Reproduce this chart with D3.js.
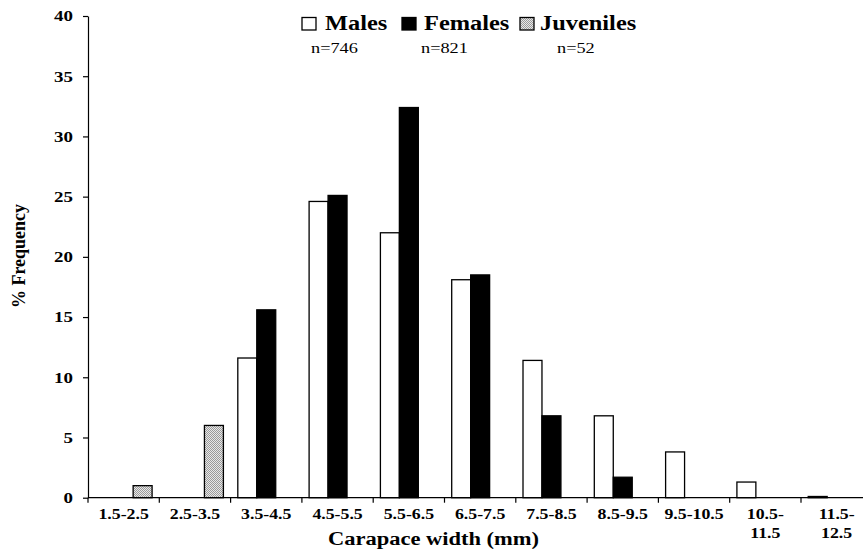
<!DOCTYPE html>
<html><head><meta charset="utf-8">
<script src="https://cdn.jsdelivr.net/npm/d3@7"></script>
<style>
html,body{margin:0;padding:0;background:#fff;overflow:hidden}
svg{display:block}
text{font-family:"Liberation Serif","Times New Roman",serif;fill:#000}
</style></head>
<body>
<svg id="chart" width="863" height="550"></svg>
<script>
const categories = ["1.5-2.5","2.5-3.5","3.5-4.5","4.5-5.5","5.5-6.5","6.5-7.5","7.5-8.5","8.5-9.5","9.5-10.5","10.5-11.5","11.5-12.5"];
const males     = [0, 0, 11.6, 24.6, 22.0, 18.1, 11.4, 6.8, 3.8, 1.3, 0.1];
const females   = [0, 0, 15.6, 25.1, 32.4, 18.5, 6.8, 1.7, 0, 0, 0];
const juveniles = [1.0, 6.0, 0, 0, 0, 0, 0, 0, 0, 0, 0];
const seriesNames = ["Males","Females","Juveniles"];
const sampleSizes = ["n=746","n=821","n=52"];
const yTicks = [0,5,10,15,20,25,30,35,40];
const xTitle = "Carapace width (mm)";
const yTitle = "% Frequency";

const svg = d3.select("#chart");
const defs = svg.append("defs");
const pat = defs.append("pattern").attr("id","dots").attr("patternUnits","userSpaceOnUse")
  .attr("width",2).attr("height",2);
pat.append("rect").attr("width",2).attr("height",2).attr("fill","#e8e8e8");
pat.append("rect").attr("width",1).attr("height",1).attr("fill","#9a9a9a");
pat.append("rect").attr("x",1).attr("y",1).attr("width",1).attr("height",1).attr("fill","#9a9a9a");

const plotLeft = 88, plotTop = 16, plotBottom = 497.7, step = 71.3;
const x = d3.scaleBand().domain(categories).range([plotLeft, plotLeft + step*categories.length]).padding(0);
const xs = d3.scaleBand().domain(seriesNames).range([0, x.bandwidth()]).paddingInner(0).paddingOuter(0.38);
const y = d3.scaleLinear().domain([0,40]).range([plotBottom, plotTop]);

const fills = {Males:"#fff", Females:"#000", Juveniles:"url(#dots)"};
const table = [];
categories.forEach((c,i)=>{
  [["Males",males[i]],["Females",females[i]],["Juveniles",juveniles[i]]].forEach(([s,v])=>{
    if (v > 0) table.push({c, s, v});
  });
});

svg.append("g").selectAll("rect").data(table).join("rect")
  .attr("x", d => x(d.c) + xs(d.s))
  .attr("width", xs.bandwidth())
  .attr("y", d => y(d.v))
  .attr("height", d => y(0) - y(d.v))
  .attr("fill", d => fills[d.s])
  .attr("stroke","#000").attr("stroke-width",1.3);

// Y axis
const ya = svg.append("g").attr("transform",`translate(${plotLeft},0)`)
  .call(d3.axisLeft(y).tickValues(yTicks).tickSize(5).tickPadding(10).tickSizeOuter(0));
ya.select(".domain").attr("stroke","#000").attr("stroke-width",1.2);
ya.selectAll(".tick line").attr("stroke","#000").attr("stroke-width",1.2);
ya.selectAll(".tick text").attr("font-family","Liberation Serif").attr("font-weight","bold")
  .attr("font-size",14).attr("x",-15/1.35).attr("transform","scale(1.35,1)").attr("dy","0.35em");

// X axis line
svg.append("line").attr("x1",plotLeft).attr("x2",863).attr("y1",plotBottom).attr("y2",plotBottom)
  .attr("stroke","#000").attr("stroke-width",1.2);
svg.append("g").selectAll("line").data(categories).join("line")
  .attr("x1", d => x(d)).attr("x2", d => x(d))
  .attr("y1", plotBottom).attr("y2", plotBottom + 5)
  .attr("stroke","#000").attr("stroke-width",1.2);

// X tick labels
const xl = svg.append("g").selectAll("text").data(categories).join("text")
  .attr("transform", d => `translate(${x(d) + x.bandwidth()/2},519) scale(1.27,1)`)
  .attr("text-anchor","middle").attr("font-weight","bold").attr("font-size",14);
xl.each(function(d){
  const t = d3.select(this);
  const parts = d.length > 8 ? [d.slice(0, d.indexOf("-")+1), d.slice(d.indexOf("-")+1)] : [d];
  parts.forEach((p,k)=> t.append("tspan").attr("x",0).attr("dy", k===0 ? 0 : 19).text(p));
});

// Axis titles
svg.append("text").attr("transform","translate(433.5,545) scale(1.25,1)")
  .attr("text-anchor","middle").attr("font-weight","bold").attr("font-size",18).text(xTitle);
svg.append("text").attr("transform","translate(25,256) rotate(-90)")
  .attr("text-anchor","middle").attr("font-weight","bold").attr("font-size",18).text(yTitle);

// Legend
const legBox = [302, 402, 520];
const legText = [325, 424, 540];
const nX = [311, 421, 557];
seriesNames.forEach((s,i)=>{
  svg.append("rect").attr("x",legBox[i]).attr("y",17.5).attr("width",14).attr("height",12.5)
    .attr("fill",fills[s]).attr("stroke","#000").attr("stroke-width",1.3);
  svg.append("text").attr("transform",`translate(${legText[i]},30) scale(1.22,1)`)
    .attr("font-weight","bold").attr("font-size",20).text(s);
  svg.append("text").attr("transform",`translate(${nX[i]},53) scale(1.22,1)`)
    .attr("font-size",15).text(sampleSizes[i]);
});
</script>
</body></html>
